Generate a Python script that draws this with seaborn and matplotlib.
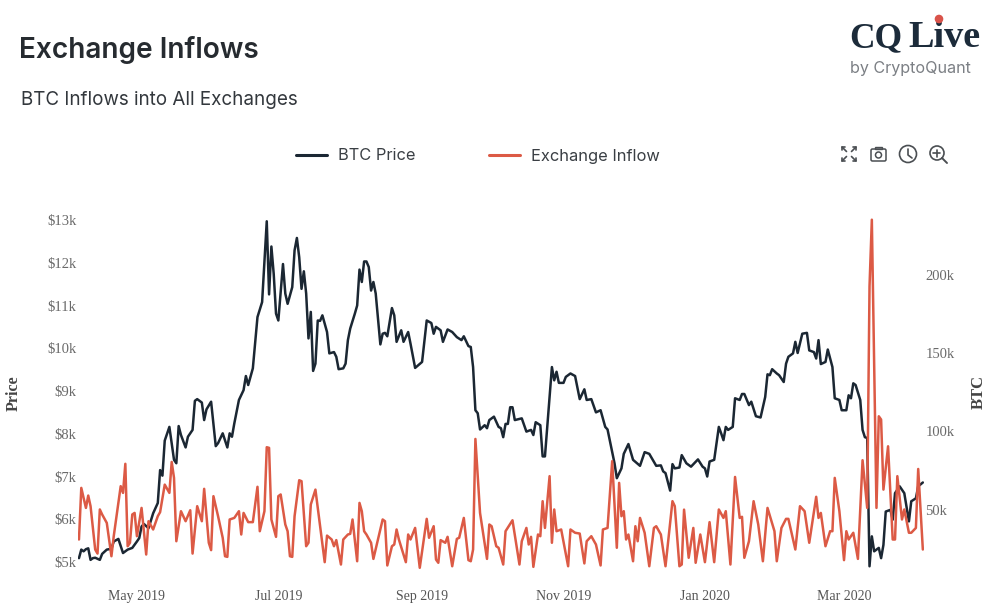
import pandas as pd
import matplotlib
matplotlib.use("Agg")
import matplotlib.pyplot as plt
from matplotlib.lines import Line2D
from matplotlib.patches import Circle, Rectangle, FancyBboxPatch
import seaborn as sns

START = "2019-04-06"
# (days since START, BTC price in $k)
price_series = [(0,5.09),(1,5.29),(2,5.25),(3,5.30),(4,5.32),(5,5.05),(6,5.09),(7,5.10),(9,5.05),(10,5.19),(12,5.29),(14,5.31),(15,5.48),(17,5.54),(19,5.21),(21,5.29),(23,5.33),(25,5.48),(26,5.56),(27,5.83),(28,5.89),(30,5.79),(32,6.14),(34,6.38),(35,7.15),(36,7.02),(37,7.84),(39,8.16),(40,7.78),(41,7.39),(42,7.31),(43,8.18),(44,7.97),(46,7.68),(47,7.93),(49,8.09),(50,8.77),(51,8.81),(53,8.73),(54,8.32),(55,8.57),(57,8.75),(59,7.71),(60,7.78),(62,8.01),(64,7.68),(65,8.01),(66,7.93),(67,8.24),(69,8.79),(71,9.02),(72,9.35),(73,9.14),(75,9.53),(77,10.73),(79,11.08),(81,12.97),(82,11.26),(83,12.38),(84,11.74),(85,10.81),(86,10.65),(88,11.97),(89,11.28),(90,11.04),(92,11.43),(93,12.29),(94,12.58),(95,12.13),(96,11.39),(97,11.80),(98,11.28),(99,10.23),(100,10.85),(101,9.47),(102,9.64),(103,10.65),(104,10.64),(105,10.77),(107,10.38),(108,9.88),(110,9.91),(111,9.80),(112,9.51),(114,9.53),(115,9.64),(116,10.19),(117,10.46),(119,10.81),(120,11.00),(121,11.84),(122,11.55),(123,12.03),(124,12.03),(125,11.90),(126,11.35),(127,11.55),(128,11.28),(130,10.09),(131,10.34),(132,10.36),(133,10.28),(135,10.94),(136,10.77),(137,10.15),(139,10.42),(140,10.15),(142,10.38),(143,10.11),(145,9.54),(148,9.68),(150,10.65),(152,10.59),(153,10.34),(154,10.50),(156,10.42),(157,10.15),(159,10.44),(161,10.38),(163,10.26),(165,10.19),(166,10.28),(168,10.05),(169,10.03),(170,9.56),(171,8.55),(172,8.48),(173,8.10),(175,8.20),(176,8.13),(177,8.32),(179,8.40),(181,8.16),(182,8.13),(183,7.92),(184,8.23),(185,8.23),(186,8.62),(187,8.62),(188,8.32),(191,8.36),(193,8.05),(195,8.09),(196,7.97),(197,8.27),(199,8.20),(200,7.47),(201,7.47),(203,8.86),(204,9.56),(205,9.25),(206,9.45),(207,9.19),(209,9.19),(210,9.33),(212,9.41),(214,9.35),(216,8.81),(218,9.04),(219,8.79),(221,8.81),(223,8.50),(225,8.55),(227,8.16),(228,8.10),(231,7.31),(232,6.96),(234,7.19),(235,7.53),(237,7.76),(239,7.39),(242,7.25),(244,7.57),(246,7.53),(249,7.25),(251,7.26),(252,7.12),(253,7.08),(255,6.67),(256,7.29),(257,7.19),(259,7.21),(260,7.50),(262,7.31),(264,7.23),(267,7.40),(269,7.23),(270,7.19),(271,7.00),(272,7.35),(274,7.39),(276,8.16),(277,8.01),(278,7.85),(279,8.16),(280,8.09),(282,8.16),(283,8.83),(285,8.79),(286,8.93),(287,8.93),(289,8.67),(290,8.75),(292,8.41),(294,8.38),(296,8.86),(297,9.39),(298,9.37),(299,9.51),(301,9.41),(302,9.37),(304,9.21),(305,9.64),(306,9.80),(308,9.88),(309,10.15),(310,9.89),(312,10.34),(314,10.36),(315,9.95),(317,9.91),(318,9.76),(319,10.19),(320,9.63),(322,9.68),(323,9.97),(325,9.56),(326,8.83),(328,8.79),(329,8.55),(331,8.55),(332,8.90),(333,8.83),(334,9.18),(335,9.14),(337,8.79),(338,8.09),(339,7.92),(340,7.90),(341,4.90),(342,5.60),(343,5.25),(345,5.33),(346,5.09),(347,5.40),(348,6.18),(350,6.22),(351,5.99),(352,6.61),(354,6.77),(356,6.61),(358,5.95),(359,6.42),(361,6.49),(362,6.77),(364,6.86)]
# (days since START, exchange inflow in thousand BTC)
inflow_series = [(0,30.9),(1,63.9),(3,51.1),(4,59),(5,52.2),(7,24.5),(8,21.9),(9,50.1),(10,46.9),(12,41.5),(14,20.2),(15,33),(18,65),(19,60.7),(20,79.3),(21,26.6),(22,28.8),(23,46.9),(24,47.9),(25,33),(27,51.1),(29,21.3),(30,42.6),(32,37.3),(34,45.8),(35,48.4),(37,66),(39,60.7),(40,80.5),(41,70.3),(42,29.8),(44,49),(46,42.6),(48,49.6),(49,21.9),(51,52.2),(53,42.6),(54,63.3),(56,28.8),(57,24.1),(58,58.6),(60,45.8),(62,32),(63,20.2),(64,19.8),(65,43.7),(67,44.7),(69,49),(70,34.1),(71,47.9),(73,42),(75,42),(77,64.6),(78,36.2),(80,49),(81,89.9),(82,89.5),(83,43.7),(85,32.6),(86,58.6),(87,59.7),(89,40.5),(90,36.2),(91,20.2),(92,19.8),(93,45.8),(95,68.8),(96,68.2),(98,26.6),(99,28.8),(100,53.3),(102,62.8),(104,39.4),(106,16.4),(107,33.4),(109,30.9),(110,26.6),(111,30.5),(113,14.9),(114,30.9),(116,34.1),(117,34.5),(118,43.7),(120,17),(121,54.3),(122,49),(123,36.2),(124,34.1),(126,28.8),(127,18.5),(131,43.7),(132,42.6),(133,14.3),(135,26.6),(136,27.7),(137,37.3),(138,30.9),(141,16.4),(142,34.1),(143,30.9),(145,38.3),(147,12.8),(150,44.1),(151,32),(153,39.4),(154,18.1),(155,16),(156,30.5),(158,28.8),(159,32.6),(161,13.8),(163,31.3),(164,32),(166,44.7),(168,17.7),(169,17),(170,24.5),(171,95.2),(173,47.9),(176,18.5),(177,40.5),(178,39.4),(180,26.6),(181,25.6),(183,14.9),(184,36.2),(187,43.2),(190,14.9),(191,29.8),(193,38.3),(194,27.7),(195,32.6),(196,13.4),(198,34.1),(199,33),(200,55.4),(201,38.3),(203,71.4),(204,28.8),(205,50.1),(206,36.2),(208,37.3),(211,13.8),(212,37.3),(214,35.2),(216,34.7),(218,15.6),(219,29.8),(221,33),(223,27.7),(225,14.3),(226,37.3),(228,38.3),(230,81),(232,25.6),(233,67.1),(234,45.8),(235,49),(236,30.9),(237,34.1),(239,17),(240,39.4),(241,29.8),(242,44.7),(244,35.2),(246,13.8),(248,38.3),(249,39.4),(251,34.1),(253,13.8),(256,55.4),(257,52.2),(259,13.8),(260,14.9),(261,50),(263,19.2),(265,38.3),(266,16),(268,34.1),(270,16.4),(272,42),(274,16.4),(276,50.1),(278,44.7),(279,49),(281,14.9),(283,70.9),(285,44.7),(286,45.4),(287,19.2),(289,29.8),(291,55.4),(293,40.5),(295,17),(297,51.1),(300,36.2),(301,17),(303,38.3),(305,44.1),(306,44.1),(309,24.5),(311,52.2),(313,49),(315,28.8),(318,58.2),(319,44.7),(320,47.9),(322,26.6),(324,36.2),(325,36.2),(326,70.3),(328,49),(330,17.7),(331,36.2),(332,30.9),(334,35.2),(336,18.5),(338,81.6),(340,51.1),(341,192.8),(342,235.4),(343,141.7),(344,51.1),(345,109.7),(346,107.6),(347,62.8),(349,90.5),(351,30.9),(352,30.9),(353,71.4),(355,43.7),(356,50.1),(358,35.2),(359,35.2),(361,38.3),(362,76),(364,24.5)]
price_ticks = [5,6,7,8,9,10,11,12,13]
price_tick_labels = [f"${v}k" for v in price_ticks]
inflow_ticks = [50,100,150,200]
inflow_tick_labels = ["50k","100k","150k","200k"]
month_ticks = ["2019-05-01","2019-07-01","2019-09-01","2019-11-01","2020-01-01","2020-03-01"]
month_labels = ["May 2019","Jul 2019","Sep 2019","Nov 2019","Jan 2020","Mar 2020"]

PRICE_COL = "#1b2733"
INFLOW_COL = "#dc5a45"
W, H = 1002, 616

sns.set_theme(style="white")
plt.rcParams["font.family"] = ["Inter", "DejaVu Sans"]
SERIF = "Liberation Serif"
GREY = "#6a6a6a"

start = pd.Timestamp(START)
price_df = pd.DataFrame(price_series, columns=["day", "price"])
price_df["date"] = start + pd.to_timedelta(price_df["day"], unit="D")
inflow_df = pd.DataFrame(inflow_series, columns=["day", "inflow"])
inflow_df["date"] = start + pd.to_timedelta(inflow_df["day"], unit="D")

fig = plt.figure(figsize=(W / 100, H / 100), dpi=100, facecolor="white")
L, R, T, B = 78, 924, 215, 575
ax = fig.add_axes([L / W, 1 - B / H, (R - L) / W, (B - T) / H])
ax2 = ax.twinx()
sns.lineplot(data=price_df, x="date", y="price", ax=ax, color=PRICE_COL, lw=1.8, estimator=None, errorbar=None)
sns.lineplot(data=inflow_df, x="date", y="inflow", ax=ax2, color=INFLOW_COL, lw=1.8, estimator=None, errorbar=None)

ax.set_xlim(start + pd.Timedelta(hours=-10), start + pd.Timedelta(days=364.5))
ax.set_ylim(4.696, 13.117)
ax2.set_ylim(8.2, 238.4)
ax.set_xticks(pd.to_datetime(month_ticks))
ax.set_xticklabels(month_labels, fontfamily=SERIF, fontsize=10, color="#555555")
ax.set_yticks(price_ticks)
ax.set_yticklabels(price_tick_labels, fontfamily=SERIF, fontsize=10.5, color=GREY)
ax2.set_yticks(inflow_ticks)
ax2.set_yticklabels(inflow_tick_labels, fontfamily=SERIF, fontsize=10.5, color=GREY)
ax.tick_params(axis="x", length=0, pad=11)
ax.tick_params(axis="y", length=0, pad=1)
ax2.tick_params(axis="y", length=0, pad=1)
ax.set_xlabel("")
ax.set_ylabel("")
ax2.set_ylabel("")
ax.grid(False)
ax2.grid(False)
for a in (ax, ax2):
    sns.despine(ax=a, left=True, right=True, top=True, bottom=True)

fig.text(14 / W, 1 - 393 / H, "Price", rotation=90, ha="center", va="center",
         fontfamily=SERIF, fontweight="bold", fontsize=11.5, color="#444444")
fig.text(979 / W, 1 - 392 / H, "BTC", rotation=90, ha="center", va="center",
         fontfamily=SERIF, fontweight="bold", fontsize=12, color="#444444")

# overlay in pixel coordinates for header furniture
ov = fig.add_axes([0, 0, 1, 1], zorder=5)
ov.set_xlim(0, W)
ov.set_ylim(H, 0)
ov.axis("off")
ov.patch.set_alpha(0)

ov.text(19, 50, "Exchange Inflows", fontsize=20.2, fontweight="semibold", color="#262b30", va="center", ha="left")
ov.text(21, 100, "BTC Inflows into All Exchanges", fontsize=13.55, color="#33383d", va="center", ha="left")

ov.add_line(Line2D([296, 327], [155, 155], color=PRICE_COL, lw=2.2, solid_capstyle="round"))
ov.text(338, 156, "BTC Price", fontsize=11.8, color="#3a3f44", va="center", ha="left")
ov.add_line(Line2D([489, 520], [155, 155], color=INFLOW_COL, lw=2.2, solid_capstyle="round"))
ov.text(531, 156, "Exchange Inflow", fontsize=11.85, color="#3a3f44", va="center", ha="left")

LOGO = "#1c2b3a"
ov.text(849, 47, "CQ", fontfamily=SERIF, fontweight="bold", fontsize=25.5, color=LOGO, va="baseline", ha="left")
ov.text(908, 47, "Live", fontfamily=SERIF, fontweight="bold", fontsize=27.5, color=LOGO, va="baseline", ha="left")
ov.add_patch(Circle((939, 19), 3.6, color="#d9534a", zorder=6))
ov.text(850, 69, "by CryptoQuant", fontsize=11.6, color="#7b7f84", va="center", ha="left")

ICON = "#4a4e52"
# expand icon
for sx, sy in [(-1, -1), (1, -1), (-1, 1), (1, 1)]:
    cx, cy = 849, 154
    ov.add_line(Line2D([cx + sx * 2.5, cx + sx * 7], [cy + sy * 2.5, cy + sy * 7], color=ICON, lw=1.2))
    ov.add_line(Line2D([cx + sx * 3.8, cx + sx * 7, cx + sx * 7], [cy + sy * 7, cy + sy * 7, cy + sy * 3.8], color=ICON, lw=1.2))
# camera icon
ov.add_patch(FancyBboxPatch((871, 149), 15, 12, boxstyle="round,pad=0,rounding_size=1.5", fill=False, ec=ICON, lw=1.1))
ov.add_patch(Rectangle((875, 147), 7, 2, fill=False, ec=ICON, lw=1.0))
ov.add_patch(Circle((878.5, 155), 3, fill=False, ec=ICON, lw=1.1))
# clock icon
ov.add_patch(Circle((908, 154), 8.5, fill=False, ec=ICON, lw=1.2))
ov.add_line(Line2D([908, 908, 912], [149, 155, 158], color=ICON, lw=1.2))
# zoom icon
ov.add_patch(Circle((937, 153), 7, fill=False, ec=ICON, lw=1.2))
ov.add_line(Line2D([942, 947], [158, 163], color=ICON, lw=1.4))
ov.add_line(Line2D([933.5, 940.5], [153, 153], color=ICON, lw=1.2))
ov.add_line(Line2D([937, 937], [149.5, 156.5], color=ICON, lw=1.2))

fig.savefig("out.png", dpi=100, facecolor="white")
